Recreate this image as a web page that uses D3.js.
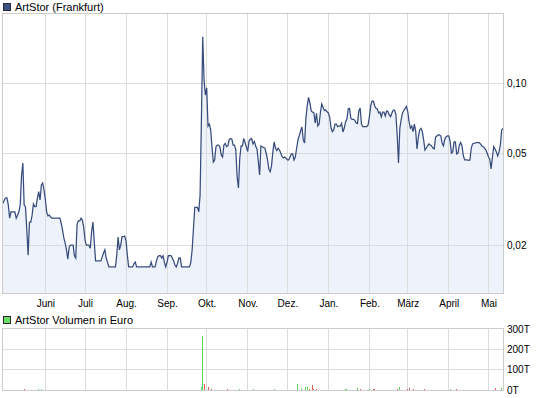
<!DOCTYPE html>
<html><head><meta charset="utf-8">
<script src="https://cdn.jsdelivr.net/npm/d3@7"></script>
<style>
body{margin:0;background:#fff}
svg{display:block}
text{font-family:"Liberation Sans",Arial,sans-serif;fill:#000}
</style>
</head><body><svg id="c" width="545" height="398"></svg>
<script>
// ---------------- DATA ----------------
const seriesTitle = "ArtStor (Frankfurt)";
const volumeTitle = "ArtStor Volumen in Euro";
const startDate = "2007-04-30";           // first day of the daily price series
const prices = [
0.0305,0.0315,0.0322,0.0322,0.0300,0.0263,0.0280,0.0280,0.0280,0.0280,
0.0263,0.0271,0.0280,0.0300,0.0400,0.0455,0.0300,0.0294,0.0234,0.0182,
0.0253,0.0253,0.0271,0.0303,0.0295,0.0295,0.0321,0.0342,0.0315,0.0366,
0.0373,0.0348,0.0318,0.0280,0.0269,0.0271,0.0266,0.0263,0.0263,0.0263,
0.0263,0.0263,0.0263,0.0263,0.0250,0.0234,0.0216,0.0205,0.0192,0.0175,
0.0197,0.0201,0.0201,0.0201,0.0181,0.0177,0.0248,0.0256,0.0256,0.0263,
0.0258,0.0241,0.0212,0.0201,0.0201,0.0201,0.0195,0.0230,0.0253,0.0208,
0.0172,0.0172,0.0172,0.0172,0.0172,0.0179,0.0186,0.0192,0.0177,0.0170,
0.0162,0.0162,0.0162,0.0162,0.0162,0.0162,0.0182,0.0218,0.0192,0.0201,
0.0219,0.0219,0.0220,0.0210,0.0182,0.0162,0.0162,0.0162,0.0162,0.0167,
0.0170,0.0162,0.0162,0.0162,0.0162,0.0162,0.0162,0.0162,0.0162,0.0162,
0.0162,0.0162,0.0170,0.0162,0.0162,0.0162,0.0172,0.0179,0.0181,0.0181,
0.0177,0.0181,0.0170,0.0162,0.0170,0.0181,0.0181,0.0181,0.0177,0.0172,
0.0165,0.0162,0.0168,0.0177,0.0177,0.0162,0.0162,0.0162,0.0162,0.0162,
0.0162,0.0162,0.0170,0.0192,0.0238,0.0293,0.0293,0.0293,0.0280,0.0331,
0.0698,0.1596,0.1038,0.0894,0.0959,0.0657,0.0670,0.0632,0.0533,0.0459,
0.0469,0.0535,0.0544,0.0544,0.0533,0.0493,0.0483,0.0544,0.0553,0.0535,
0.0539,0.0575,0.0581,0.0577,0.0544,0.0544,0.0518,0.0397,0.0355,0.0478,
0.0539,0.0539,0.0580,0.0558,0.0533,0.0510,0.0566,0.0577,0.0580,0.0550,
0.0563,0.0539,0.0523,0.0464,0.0404,0.0539,0.0535,0.0531,0.0527,0.0500,
0.0469,0.0427,0.0417,0.0442,0.0508,0.0561,0.0528,0.0515,0.0527,0.0518,
0.0502,0.0484,0.0478,0.0483,0.0477,0.0469,0.0469,0.0483,0.0498,0.0498,
0.0469,0.0483,0.0528,0.0572,0.0598,0.0625,0.0651,0.0572,0.0555,0.0711,
0.0802,0.0874,0.0826,0.0763,0.0755,0.0748,0.0677,0.0746,0.0657,0.0670,
0.0755,0.0818,0.0790,0.0767,0.0770,0.0757,0.0748,0.0715,0.0644,0.0621,
0.0632,0.0670,0.0670,0.0653,0.0657,0.0657,0.0675,0.0619,0.0644,0.0684,
0.0704,0.0778,0.0782,0.0708,0.0702,0.0702,0.0695,0.0677,0.0673,0.0763,
0.0786,0.0670,0.0653,0.0653,0.0653,0.0653,0.0664,0.0719,0.0806,0.0842,
0.0842,0.0802,0.0783,0.0778,0.0748,0.0755,0.0719,0.0755,0.0755,0.0726,
0.0763,0.0759,0.0733,0.0721,0.0748,0.0770,0.0770,0.0740,0.0601,0.0455,
0.0644,0.0698,0.0748,0.0767,0.0783,0.0798,0.0759,0.0686,0.0644,0.0657,
0.0622,0.0670,0.0625,0.0523,0.0589,0.0632,0.0642,0.0622,0.0572,0.0518,
0.0528,0.0539,0.0550,0.0544,0.0539,0.0528,0.0523,0.0589,0.0595,0.0601,
0.0601,0.0595,0.0553,0.0539,0.0577,0.0591,0.0595,0.0595,0.0566,0.0502,
0.0508,0.0561,0.0561,0.0498,0.0502,0.0544,0.0558,0.0539,0.0490,0.0469,
0.0469,0.0469,0.0467,0.0469,0.0528,0.0550,0.0553,0.0555,0.0557,0.0557,
0.0557,0.0550,0.0539,0.0535,0.0527,0.0518,0.0502,0.0484,0.0473,0.0429,
0.0483,0.0536,0.0523,0.0508,0.0488,0.0508,0.0544,0.0632,0.0642
];
const monthStarts = ["2007-06-01","2007-07-01","2007-08-01","2007-09-01","2007-10-01","2007-11-01",
                     "2007-12-01","2008-01-01","2008-02-01","2008-03-01","2008-04-01","2008-05-01"];
const monthLabels = ["Juni","Juli","Aug.","Sep.","Okt.","Nov.","Dez.","Jan.","Feb.","März","April","Mai"];
const priceTicks = [0.10, 0.05, 0.02];
const priceTickLabels = ["0,10","0,05","0,02"];
// volume (thousand euro) on day offsets from startDate
const volDays   = [16,27,29,150,151,152,155,158,170,179,189,205,223,226,229,230,232,234,235,237,259,260,268,270,277,280,281,298,300,306,307,310,319,338,343,372,377];
const volValues = [4,6,6,14,265,29,17,4,4,4,4,5,29,8,14,14,4,24,5,4,4,4,9,4,6,4,4,4,14,6,9,4,4,4,4,9,9];
const volDir    = ["down","up","up","up","up","down","down","down","down","up","up","up","up","up","up","up","down","down","down","down","up","up","up","down","up","down","down","down","up","down","down","down","down","up","down","down","up"];
const volTicks = [0, 100, 200, 300];
const volTickLabels = ["0T","100T","200T","300T"];

// ---------------- CHART ----------------
const parse = d3.timeParse("%Y-%m-%d");
const t0 = parse(startDate);
const series = prices.map((p, i) => ({date: d3.timeDay.offset(t0, i), price: p}));
const months = monthStarts.map(parse);

const L = 3, R = 503;
const x = d3.scaleTime().domain([t0, d3.timeDay.offset(t0, 378)]).range([L, R]);
const pTop = 14, pBot = 293;
const y = d3.scaleLog().domain([0.0125, 0.2]).range([pBot, pTop]);
const vTop = 329, vBot = 390;
const yv = d3.scaleLinear().domain([0, 300]).range([vBot, vTop]);

const svg = d3.select("#c");
svg.append("rect").attr("width",545).attr("height",398).attr("fill","#fff");

const gridCol = "#dcdcdc", borderCol = "#cccccc";
const px = v => Math.floor(v) + 0.5;

// ---- price panel
const area = d3.area().x(d => x(d.date)).y0(pBot).y1(d => y(d.price));
svg.append("path").datum(series).attr("d", area).attr("fill", "#eef2fa");

const g = svg.append("g");
g.selectAll(".vg").data(months).join("line")
  .attr("x1", d => px(x(d))).attr("x2", d => px(x(d)))
  .attr("y1", pTop).attr("y2", pBot).attr("stroke", gridCol);
g.selectAll(".hg").data(priceTicks).join("line")
  .attr("x1", L).attr("x2", R).attr("y1", d => px(y(d))).attr("y2", d => px(y(d)))
  .attr("stroke", gridCol);

const line = d3.line().x(d => x(d.date)).y(d => y(d.price));
svg.append("path").datum(series).attr("d", line)
  .attr("fill", "none").attr("stroke", "#384c7c").attr("stroke-width", 1.25)
  .attr("stroke-linejoin", "miter");

svg.append("rect").attr("x", L - 0.5).attr("y", pTop - 0.5)
  .attr("width", R - L + 1).attr("height", pBot - pTop + 1)
  .attr("fill", "none").attr("stroke", borderCol);

// month axis
const ax = svg.append("g").attr("transform", `translate(0,${pBot})`)
  .call(d3.axisBottom(x).tickValues(months).tickFormat((d, i) => monthLabels[i])
        .tickSize(0).tickPadding(7));
ax.select(".domain").remove();
ax.selectAll("text").attr("font-size", "10px").style("font-family", null);

// price axis (right)
const ay = svg.append("g").attr("transform", `translate(${R},0)`)
  .call(d3.axisRight(y).tickValues(priceTicks).tickFormat((d, i) => priceTickLabels[i])
        .tickSize(0).tickPadding(4));
ay.select(".domain").remove();
ay.selectAll("text").attr("font-size", "10px").style("font-family", null);

// legend 1
svg.append("rect").attr("x", 3.5).attr("y", 3.5).attr("width", 7).attr("height", 7)
  .attr("fill", "#3c5184").attr("stroke", "#2a2a3a");
svg.append("text").attr("x", 15).attr("y", 11).attr("font-size", "11px").text(seriesTitle);

// ---- volume panel
const gv = svg.append("g");
gv.selectAll(".vvg").data(months).join("line")
  .attr("x1", d => px(x(d))).attr("x2", d => px(x(d)))
  .attr("y1", vTop).attr("y2", vBot).attr("stroke", gridCol);
gv.selectAll(".vhg").data(volTicks.slice(1, 3)).join("line")
  .attr("x1", L).attr("x2", R).attr("y1", d => px(yv(d))).attr("y2", d => px(yv(d)))
  .attr("stroke", gridCol);
svg.append("rect").attr("x", L - 0.5).attr("y", vTop - 0.5)
  .attr("width", R - L + 1).attr("height", vBot - vTop + 1)
  .attr("fill", "none").attr("stroke", borderCol);

const vols = volDays.map((d, i) => ({date: d3.timeDay.offset(t0, d), v: volValues[i], dir: volDir[i]}));
const barTop = d => Math.min(vBot - 1, Math.round(yv(d.v)));
svg.append("g").selectAll("rect").data(vols).join("rect")
  .attr("x", d => Math.floor(x(d.date))).attr("width", 1)
  .attr("y", barTop).attr("height", d => vBot - barTop(d))
  .attr("fill", d => d.dir === "up" ? "#5fd65f" : "#e35d5d");

const avv = svg.append("g").attr("transform", `translate(${R},0)`)
  .call(d3.axisRight(yv).tickValues(volTicks).tickFormat((d, i) => volTickLabels[i])
        .tickSize(0).tickPadding(4));
avv.select(".domain").remove();
avv.selectAll("text").attr("font-size", "10px").style("font-family", null);

svg.append("rect").attr("x", 3.5).attr("y", 316.5).attr("width", 7).attr("height", 7)
  .attr("fill", "#66dd66").attr("stroke", "#2a2a2a");
svg.append("text").attr("x", 15).attr("y", 324).attr("font-size", "11px").text(volumeTitle);
</script>
</body></html>
